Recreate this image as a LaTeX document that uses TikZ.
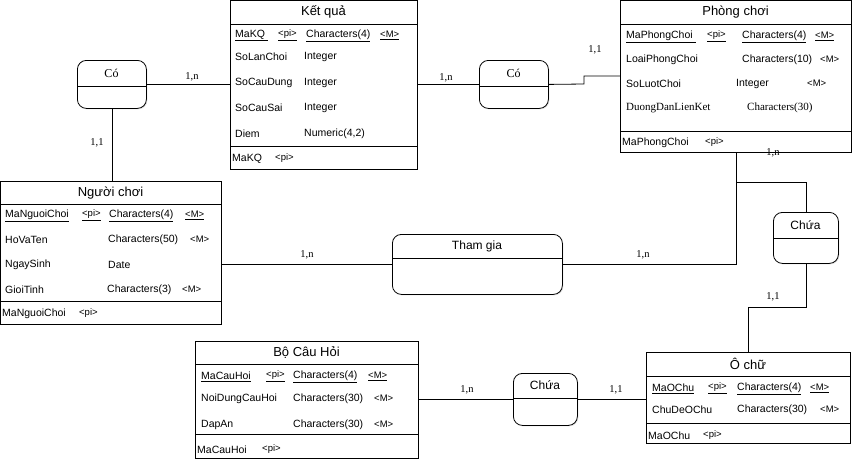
\documentclass[tikz,border=0pt]{standalone}
\usepackage{fontspec}
\setmainfont{Liberation Sans}
\newfontfamily\timesfont{Liberation Serif}
\usetikzlibrary{positioning,shadows}

\begin{document}
\begin{tikzpicture}[x=1pt, y=-1pt,
    ent/.style={rectangle, draw, line width=0.8pt, inner sep=0pt, anchor=north west},
    rel/.style={rectangle, draw, rounded corners=9pt, line width=0.8pt, inner sep=0pt, anchor=north west, fill=white,
        drop shadow={opacity=0.2, shadow xshift=1pt, shadow yshift=-1pt}},
    etitle/.style={inner sep=0pt, font=\fontsize{13}{15}\selectfont},
    attr/.style={anchor=west, inner sep=0pt, yshift=-1.5pt, font=\fontsize{10.5}{12}\selectfont},
    tag/.style={anchor=west, inner sep=0pt, yshift=-1.5pt, font=\fontsize{9.5}{11}\selectfont},
    card/.style={inner sep=0pt, font=\timesfont\fontsize{10.5}{12}\selectfont},
    link/.style={line width=0.8pt}]
    % Page frame
    \useasboundingbox (0,0) rectangle (853,459);

    % Entity: Ket qua
    \node[ent, minimum width=187pt, minimum height=169pt] (kq) at (230,0) {};
    \draw (230,24) -- (417,24);
    \draw (230,146) -- (417,146);
    \node[etitle] (kq-title) at (323.5,12) {Kết quả};
    \node[attr] (kq-k) at (235,34) {\underline{MaKQ\ }};
    \node[tag] (kq-kp) at (278,34) {\underline{<pi>}};
    \node[attr] (kq-kt) at (306,34) {\underline{Characters(4)}};
    \node[tag] (kq-km) at (380,34) {\underline{<M>}};
    \foreach \y/\n/\t [count=\i] in {55/SoLanChoi/Integer, 81/SoCauDung/Integer, 106/SoCauSai/Integer, 132/Diem/{Numeric(4,2)}} {
        \node[attr] (kq-n\i) at (235,\y) {\n};
        \node[attr] (kq-t\i) at (304,\y) {\t};
    }
    \node[attr] (kq-pk) at (232,157) {MaKQ};
    \node[tag] (kq-pp) at (275,157) {<pi>};

    % Entity: Phong choi
    \node[ent, minimum width=231pt, minimum height=152pt] (pc) at (620,0) {};
    \draw (620,24) -- (851,24);
    \draw (620,131) -- (851,131);
    \node[etitle] (pc-title) at (735.5,12) {Phòng chơi};
    \node[attr] (pc-k) at (626,35) {\underline{MaPhongChoi\ }};
    \node[tag] (pc-kp) at (707,35) {\underline{<pi>}};
    \node[attr] (pc-kt) at (742,35) {\underline{Characters(4)}};
    \node[tag] (pc-km) at (815,35) {\underline{<M>}};
    \foreach \y/\n/\tx/\t/\mx [count=\i] in {58/LoaiPhongChoi/742/Characters(10)/820, 82/SoLuotChoi/736/Integer/807} {
        \node[attr] (pc-n\i) at (626,\y) {\n};
        \node[attr] (pc-t\i) at (\tx,\y) {\t};
        \node[tag] (pc-m\i) at (\mx,\y) {<M>};
    }
    \node[card, anchor=west, font=\timesfont\fontsize{11}{13}\selectfont] (pc-n3) at (626,108) {DuongDanLienKet};
    \node[card, anchor=west, font=\timesfont\fontsize{11}{13}\selectfont] (pc-t3) at (747,108) {Characters(30)};
    \node[attr] (pc-pk) at (622,141) {MaPhongChoi};
    \node[tag] (pc-pp) at (705,141) {<pi>};

    % Entity: Nguoi choi
    \node[ent, minimum width=221pt, minimum height=143pt] (nc) at (0,181) {};
    \draw (0,204) -- (221,204);
    \draw (0,301) -- (221,301);
    \node[etitle] (nc-title) at (110.5,193) {Người chơi};
    \node[attr] (nc-k) at (5,214) {\underline{MaNguoiChoi}};
    \node[tag] (nc-kp) at (82,214) {\underline{<pi>}};
    \node[attr] (nc-kt) at (109,214) {\underline{Characters(4)}};
    \node[tag] (nc-km) at (185,214) {\underline{<M>}};
    \node[attr] (nc-n1) at (5,238) {HoVaTen};
    \node[attr] (nc-t1) at (108,238) {Characters(50)};
    \node[tag] (nc-m1) at (190,238) {<M>};
    \node[attr] (nc-n2) at (5,263) {NgaySinh};
    \node[attr] (nc-t2) at (108,263) {Date};
    \node[attr] (nc-n3) at (5,288) {GioiTinh};
    \node[attr] (nc-t3) at (107,288) {Characters(3)};
    \node[tag] (nc-m3) at (182,288) {<M>};
    \node[attr] (nc-pk) at (2,312) {MaNguoiChoi};
    \node[tag] (nc-pp) at (79,312) {<pi>};

    % Entity: Bo Cau Hoi
    \node[ent, minimum width=223pt, minimum height=117pt] (bch) at (195,341) {};
    \draw (195,364) -- (418,364);
    \draw (195,434) -- (418,434);
    \node[etitle] (bch-title) at (306.5,353) {Bộ Câu Hỏi};
    \node[attr] (bch-k) at (201,375) {\underline{MaCauHoi}};
    \node[tag] (bch-kp) at (266,375) {\underline{<pi>}};
    \node[attr] (bch-kt) at (293,375) {\underline{Characters(4)}};
    \node[tag] (bch-km) at (368,375) {\underline{<M>}};
    \foreach \y/\n [count=\i] in {397/NoiDungCauHoi, 423/DapAn} {
        \node[attr] (bch-n\i) at (201,\y) {\n};
        \node[attr] (bch-t\i) at (293,\y) {Characters(30)};
        \node[tag] (bch-m\i) at (374,\y) {<M>};
    }
    \node[attr] (bch-pk) at (197,448) {MaCauHoi};
    \node[tag] (bch-pp) at (262,448) {<pi>};

    % Entity: O chu
    \node[ent, minimum width=204pt, minimum height=91pt] (oc) at (646,352) {};
    \draw (646,376) -- (850,376);
    \draw (646,423) -- (850,423);
    \node[etitle] (oc-title) at (748,364) {Ô chữ};
    \node[attr] (oc-k) at (652,387) {\underline{MaOChu}};
    \node[tag] (oc-kp) at (708,387) {\underline{<pi>}};
    \node[attr] (oc-kt) at (737,387) {\underline{Characters(4)}};
    \node[tag] (oc-km) at (810,387) {\underline{<M>}};
    \node[attr] (oc-n1) at (652,408) {ChuDeOChu};
    \node[attr] (oc-t1) at (737,408) {Characters(30)};
    \node[tag] (oc-m1) at (820,408) {<M>};
    \node[attr] (oc-pk) at (648,434) {MaOChu};
    \node[tag] (oc-pp) at (703,434) {<pi>};

    % Relationships
    \node[rel, minimum width=69pt, minimum height=48pt] (co1) at (77,60) {};
    \draw (77,86) -- (146,86);
    \node[card, font=\timesfont\fontsize{12}{14}\selectfont] (co1-title) at (111.5,73) {Có};
    \node[rel, minimum width=69pt, minimum height=48pt] (co2) at (479,60) {};
    \draw (479,86) -- (548,86);
    \node[card, font=\timesfont\fontsize{12}{14}\selectfont] (co2-title) at (513.5,73) {Có};
    \node[rel, minimum width=170pt, minimum height=60pt] (tg) at (392,234) {};
    \draw (392,258) -- (562,258);
    \node[etitle, font=\fontsize{12}{14}\selectfont] (tg-title) at (477,246) {Tham gia};
    \node[rel, minimum width=65pt, minimum height=51pt] (ch1) at (773,212) {};
    \draw (773,238) -- (838,238);
    \node[etitle, font=\fontsize{12}{14}\selectfont] (ch1-title) at (805.5,225) {Chứa};
    \node[rel, minimum width=64pt, minimum height=52pt] (ch2) at (513,373) {};
    \draw (513,398) -- (577,398);
    \node[etitle, font=\fontsize{12}{14}\selectfont] (ch2-title) at (545,385) {Chứa};

    % Connectors
    \draw[link] (co1.east) -- (kq.west |- co1.east);
    \node[card] (l1) at (192,77) {1,n};
    \draw[link] (co1.south) -- (co1.south |- nc.north);
    \node[card] (l2) at (97,143) {1,1};
    \draw[link] (kq.east |- co2.west) -- (co2.west);
    \node[card] (l3) at (446,78) {1,n};
    \draw[link] (co2.east) -- (584,84) -- (584,76) -- (pc.west |- 0,76);
    \node[card] (l4) at (595,50) {1,1};
    \draw[link] (nc.east |- tg.west) -- (tg.west);
    \node[card] (l5) at (307,255) {1,n};
    \draw[link] (tg.east) -| (pc.south);
    \node[card] (l6) at (643,255) {1,n};
    \draw[link] (pc.south) -- ++(0,30) -| (ch1.north);
    \node[card] (l7) at (773,153) {1,n};
    \draw[link] (ch1.south) -- ++(0,44) -| (oc.north);
    \node[card] (l8) at (773,297) {1,1};
    \draw[link] (bch.east |- ch2.west) -- (ch2.west);
    \node[card] (l9) at (467,390) {1,n};
    \draw[link] (ch2.east) -- (oc.west |- ch2.east);
    \node[card] (l10) at (616,390) {1,1};
\end{tikzpicture}
\end{document}
